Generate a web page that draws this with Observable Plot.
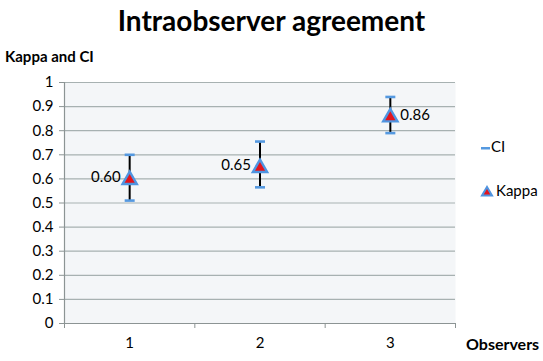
<!DOCTYPE html>
<html>
<head>
<meta charset="utf-8">
<script src="https://cdn.jsdelivr.net/npm/d3@7"></script>
<script src="https://cdn.jsdelivr.net/npm/@observablehq/plot@0.6"></script>
<style>
  body { margin: 0; background: #fff; font-family: Lato, "Open Sans", sans-serif; }
  #wrap { position: relative; width: 543px; height: 361px; }
  #wrap svg { position: absolute; left: 0; top: 0; }
  .lbl { position: absolute; white-space: nowrap; color: #000; }
</style>
</head>
<body>
<div id="wrap">
  <div class="lbl" style="left:0;width:543px;top:3px;text-align:center;font-size:28px;font-weight:bold;">Intraobserver agreement</div>
  <div class="lbl" style="left:5px;top:47px;font-size:15px;font-weight:bold;">Kappa and CI</div>
  <div class="lbl" style="left:466px;top:334px;font-size:16px;font-weight:bold;">Observers</div>
  <div class="lbl" style="left:480px;top:137px;font-size:15px;">
    <svg width="12" height="16" style="position:relative;vertical-align:middle;left:0;top:0"><rect x="1" y="7" width="9" height="2.5" fill="#5599e0"/></svg><span style="position:relative;left:-1px">CI</span>
  </div>
  <div class="lbl" style="left:479px;top:181px;font-size:15px;">
    <svg width="16" height="16" style="position:relative;vertical-align:middle;left:0;top:-1px"><path d="M8,4 L13,12.5 L3,12.5 Z" fill="#e3141c" stroke="#4f94e0" stroke-width="2" stroke-linejoin="miter"/></svg><span style="margin-left:1px">Kappa</span>
  </div>
</div>
<script>
const observers = [1, 2, 3];
const kappa = [0.60, 0.65, 0.86];
const ciLow = [0.51, 0.565, 0.79];
const ciHigh = [0.70, 0.755, 0.94];
const kappaLabels = ["0.60", "0.65", "0.86"];
const xTickLabels = ["1", "2", "3"];
const yTicks = [0, 0.1, 0.2, 0.3, 0.4, 0.5, 0.6, 0.7, 0.8, 0.9, 1];
const yTickLabels = ["0", "0.1", "0.2", "0.3", "0.4", "0.5", "0.6", "0.7", "0.8", "0.9", "1"];
const xTickBounds = [0.5, 1.5, 2.5, 3.5];

const data = observers.map((o, i) => ({obs: o, k: kappa[i], lo: ciLow[i], hi: ciHigh[i], label: kappaLabels[i]}));

const capSymbol = {
  draw(context, size) {
    const w = 5, h = 1.3;
    context.moveTo(-w, -h);
    context.lineTo(w, -h);
    context.lineTo(w, h);
    context.lineTo(-w, h);
    context.closePath();
  }
};

const plot = Plot.plot({
  width: 543,
  height: 361,
  marginLeft: 64,
  marginRight: 88,
  marginTop: 82,
  marginBottom: 38,
  style: {fontFamily: "Lato, 'Open Sans', sans-serif", fontSize: "14px", color: "#000", background: "transparent"},
  x: {type: "linear", domain: [0.5, 3.5], axis: null},
  y: {domain: [0, 1], axis: null},
  marks: [
    Plot.frame({fill: "#f4f6f8", stroke: null}),
    Plot.gridY(yTicks, {stroke: "#a7b1b1", strokeOpacity: 1, strokeWidth: 1.2}),
    Plot.ruleX([0.5], {stroke: "#8c9494", strokeWidth: 1.2}),
    Plot.ruleY([0], {stroke: "#8c9494", strokeWidth: 1.2}),
    Plot.axisY(yTicks, {tickSize: 5, tickPadding: 6, stroke: "#8c9494", tickFormat: (d, i) => yTickLabels[i], fontSize: 15, fill: "#000", label: null}),
    Plot.axisX(xTickBounds, {tickSize: 5, tickFormat: () => "", stroke: "#8c9494", label: null}),
    Plot.axisX(observers, {tickSize: 0, tickPadding: 14, fontSize: 15, fill: "#000", label: null, tickFormat: (d, i) => xTickLabels[i]}),
    Plot.ruleX(data, {x: "obs", y1: "lo", y2: "hi", stroke: "#000", strokeWidth: 2}),
    Plot.dot(data, {x: "obs", y: "hi", symbol: capSymbol, fill: "#5599e0", stroke: null, r: 5}),
    Plot.dot(data, {x: "obs", y: "lo", symbol: capSymbol, fill: "#5599e0", stroke: null, r: 5}),
    Plot.dot(data, {x: "obs", y: "k", symbol: "triangle", r: 5.3, fill: "#e3141c", stroke: "#4f94e0", strokeWidth: 2.4, dy: 1}),
    Plot.text(data.filter(d => d.obs < 3), {x: "obs", y: "k", text: "label", textAnchor: "end", dx: -9, dy: -2, fontSize: 15, fill: "#000"}),
    Plot.text(data.filter(d => d.obs === 3), {x: "obs", y: "k", text: "label", textAnchor: "start", dx: 10, dy: -1, fontSize: 15, fill: "#000"})
  ]
});
document.getElementById("wrap").prepend(plot);
</script>
</body>
</html>
